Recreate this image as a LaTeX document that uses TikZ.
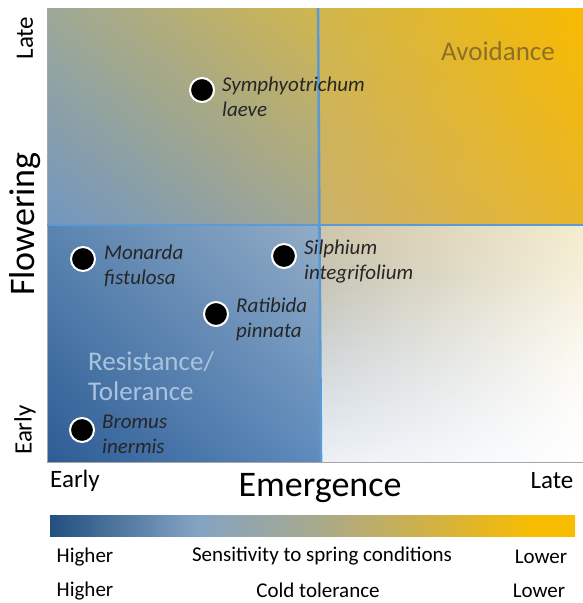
\documentclass[tikz,border=0pt]{standalone}
\usepackage{fontspec}
\setmainfont{Carlito}
\usetikzlibrary{positioning,shadings,fadings}

% colour bar under the emergence axis (path fills the middle 25bp--75bp)
\definecolor{bar_0}{HTML}{22507F}
\definecolor{bar_1}{HTML}{84A3C3}
\definecolor{bar_2}{HTML}{A6A98F}
\definecolor{bar_3}{HTML}{D4B240}
\definecolor{bar_4}{HTML}{F8BC00}
\pgfdeclarehorizontalshading{springbar}{100bp}{color(0bp)=(bar_0); color(25bp)=(bar_0); color(39bp)=(bar_1); color(50bp)=(bar_2); color(62bp)=(bar_3); color(71bp)=(bar_4); color(100bp)=(bar_4)}

\tikzset{
  plantdot/.style={circle, fill=black, draw=white, line width=2pt, minimum size=24pt, inner sep=0},
  plantlabel/.style={inner sep=0, align=left, font=\fontsize{21}{25}\selectfont\itshape, text=black!85},
  axislabel/.style={inner sep=0, font=\fontsize{25}{28}\selectfont},
  axistitle/.style={inner sep=0, font=\fontsize{36}{40}\selectfont},
  barlabel/.style={inner sep=0, font=\fontsize{21}{24}\selectfont},
  quadline/.style={line width=2.6pt, color=quad_line}
}

\begin{document}
\begin{tikzpicture}[x=1pt,y=-1pt]
    \definecolor{quad_line}{HTML}{5B9BD5}
    \definecolor{color_0}{HTML}{9EA898}
    \definecolor{color_1}{HTML}{D0B64C}
    \definecolor{color_2}{HTML}{7096C0}
    \definecolor{color_3}{HTML}{A3A792}
    \definecolor{color_4}{HTML}{F8BA00}
    \definecolor{color_5}{HTML}{CBB16C}
    \definecolor{color_6}{HTML}{E8B62A}
    \definecolor{color_7}{HTML}{5A84B0}
    \definecolor{color_8}{HTML}{92ACC6}
    \definecolor{color_9}{HTML}{2D5C94}
    \definecolor{color_10}{HTML}{5F8BBC}
    \definecolor{color_11}{HTML}{CFC6AA}
    \definecolor{color_12}{HTML}{F4ECCF}
    \definecolor{color_13}{HTML}{A6BAD2}
    \definecolor{avoid_text}{RGB}{140,112,40}
    \definecolor{resist_text}{RGB}{170,195,222}
    \useasboundingbox (0,0) rectangle (583,603);

    % the four quadrants
    \shade[upper left=color_0, upper right=color_1, lower left=color_2, lower right=color_3]
        (47,8) rectangle (320,225);
    \shade[upper left=color_1, upper right=color_4, lower left=color_5, lower right=color_6]
        (320,8) rectangle (583,225);
    \shade[upper left=color_7, upper right=color_8, lower left=color_9, lower right=color_10]
        (47,225) rectangle (320,462);
    \shade[upper left=color_11, upper right=color_12, lower left=color_13, lower right=white]
        (320,225) rectangle (583,462);
    % white corner of the late/early quadrant
    \fill[white, path fading=north, fading angle=50, fading transform={xshift=25pt, yshift=-10pt}]
        (320,225) rectangle (583,462);
    \draw[gray!70, line width=0.8pt] (47,8) -- (47,462) -- (583,462);

    % quadrant borders
    \coordinate (vtop) at (318,8);
    \coordinate (vbot) at (321,462);
    \coordinate (hleft) at (47,225);
    \coordinate (hright) at (583,225);
    \draw[quadline] (vtop) -- (vbot);
    \draw[quadline] (hleft) -- (hright);

    \node[inner sep=0, font=\fontsize{27}{30}\selectfont, text=avoid_text] (avoid) at (498,51) {Avoidance};
    \node[inner sep=0, align=left, anchor=west, font=\fontsize{27}{30}\selectfont, text=resist_text] (resist) at (88,376) {Resistance/\\Tolerance};

    % species
    \node[plantdot] (symph) at (202,90) {};
    \node[plantlabel, right=7pt of symph, yshift=-7pt] (symph_text) {Symphyotrichum\\laeve};
    \node[plantdot] (monarda) at (83,259) {};
    \node[plantlabel, right=8pt of monarda, yshift=-7pt] (monarda_text) {Monarda\\fistulosa};
    \node[plantdot] (silph) at (284,256) {};
    \node[plantlabel, right=7pt of silph, yshift=-6pt] (silph_text) {Silphium\\integrifolium};
    \node[plantdot] (ratib) at (216,314) {};
    \node[plantlabel, right=7pt of ratib, yshift=-5pt] (ratib_text) {Ratibida\\pinnata};
    \node[plantdot] (bromus) at (82,430) {};
    \node[plantlabel, right=7pt of bromus, yshift=-4pt] (bromus_text) {Bromus\\inermis};

    % axes
    \node[axislabel, rotate=90] (flow_late) at (25,38) {Late};
    \node[axistitle, rotate=90] (flow_text) at (25,224) {Flowering};
    \node[axislabel, rotate=90] (flow_early) at (25,430) {Early};
    \node[axislabel] (emer_early) at (75,481) {Early};
    \node[axistitle] (emer_text) at (320,488) {Emergence};
    \node[axislabel] (emer_late) at (552,481) {Late};

    % colour bar and its labels
    \shade[shading=springbar] (50,515) rectangle (575,536);
    \node[barlabel] (sens_high) at (85,557) {Higher};
    \node[barlabel] (sens_text) at (322,556) {Sensitivity to spring conditions};
    \node[barlabel] (sens_low) at (541,557) {Lower};
    \node[barlabel] (cold_high) at (85,591) {Higher};
    \node[barlabel] (cold_text) at (318,590) {Cold tolerance};
    \node[barlabel] (cold_low) at (539,591) {Lower};

  \end{tikzpicture}
\end{document}
